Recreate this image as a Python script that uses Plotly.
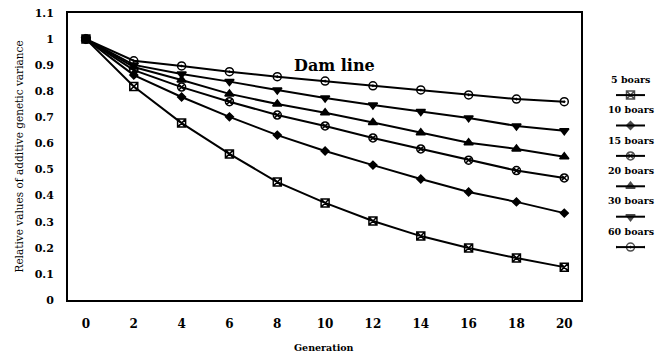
import plotly.graph_objects as go

generations = [0, 2, 4, 6, 8, 10, 12, 14, 16, 18, 20]

boars_5 = [1.0, 0.818, 0.678, 0.560, 0.452, 0.372, 0.303, 0.245, 0.199, 0.161, 0.126]
boars_10 = [1.0, 0.862, 0.778, 0.702, 0.632, 0.571, 0.517, 0.464, 0.414, 0.376, 0.333]
boars_15 = [1.0, 0.881, 0.816, 0.760, 0.709, 0.667, 0.621, 0.579, 0.536, 0.496, 0.468]
boars_20 = [1.0, 0.893, 0.843, 0.790, 0.751, 0.718, 0.680, 0.641, 0.603, 0.579, 0.549]
boars_30 = [1.0, 0.901, 0.866, 0.837, 0.805, 0.774, 0.747, 0.722, 0.698, 0.667, 0.649]
boars_60 = [1.0, 0.917, 0.897, 0.875, 0.856, 0.839, 0.821, 0.805, 0.786, 0.770, 0.760]

series_names = ["5 boars", "10 boars", "15 boars", "20 boars", "30 boars", "60 boars"]
series_values = [boars_5, boars_10, boars_15, boars_20, boars_30, boars_60]
series_symbols = ["square-x-open", "diamond", "circle-x-open", "triangle-up", "triangle-down", "circle-open-dot"]
series_sizes = [8, 6, 8, 8, 8, 8]

y_tickvals = [0, 0.1, 0.2, 0.3, 0.4, 0.5, 0.6, 0.7, 0.8, 0.9, 1.0, 1.1]
y_ticktext = ["0", "0.1", "0.2", "0.3", "0.4", "0.5", "0.6", "0.7", "0.8", "0.9", "1", "1.1"]

SERIF = "DejaVu Serif"

fig = go.Figure()

for name, vals, sym, sz in zip(series_names, series_values, series_symbols, series_sizes):
    fig.add_trace(go.Scatter(
        x=generations, y=vals, mode="lines+markers", name=name,
        line=dict(color="black", width=2),
        marker=dict(symbol=sym, size=sz, color="black", line=dict(color="black", width=1.5)),
        showlegend=False, xaxis="x", yaxis="y",
    ))

# custom legend: text above, line+marker below
for i, (name, sym, sz) in enumerate(zip(series_names, series_symbols, series_sizes)):
    fig.add_trace(go.Scatter(
        x=[0, 0.5, 1], y=[i, i, i], mode="lines+markers",
        line=dict(color="black", width=2),
        marker=dict(symbol=sym, size=[0, sz, 0], color="black", line=dict(color="black", width=1.5)),
        showlegend=False, xaxis="x2", yaxis="y2", hoverinfo="skip",
    ))
    fig.add_annotation(
        x=0.5, y=i - 0.52, xref="x2", yref="y2", text="<b>" + name + "</b>", showarrow=False,
        font=dict(family=SERIF, size=9.5, color="black"), xanchor="center", yanchor="middle",
    )

fig.add_annotation(
    x=10.4, y=0.9, xref="x", yref="y", text="<b>Dam line</b>", showarrow=False,
    font=dict(family=SERIF, size=16, color="black"), xanchor="center", yanchor="middle",
)
fig.add_annotation(
    x=-0.0836, y=0.5, xref="paper", yref="paper", text="Relative values of additive genetic variance",
    textangle=-90, showarrow=False, font=dict(family=SERIF, size=10.5, color="black"),
    xanchor="center", yanchor="middle",
)
fig.add_annotation(
    x=0.428, y=-0.167, xref="paper", yref="paper", text="<b>Generation</b>", showarrow=False,
    font=dict(family=SERIF, size=9.5, color="black"), xanchor="center", yanchor="middle",
)

fig.update_layout(
    width=666, height=358,
    margin=dict(l=68, r=0, t=13, b=58),
    paper_bgcolor="white", plot_bgcolor="white",
    xaxis=dict(
        domain=[0, 0.8579], range=[-0.75, 20.7],
        tickvals=generations, ticktext=[str(g) for g in generations],
        showgrid=False, zeroline=False, showline=True, mirror=True,
        linecolor="black", linewidth=2, ticks="", ticklabelstandoff=12,
        tickfont=dict(family=SERIF, size=12, color="black", weight="bold"),
    ),
    yaxis=dict(
        range=[0, 1.1], tickvals=y_tickvals, ticktext=y_ticktext,
        showgrid=False, zeroline=False, showline=True, mirror=True,
        linecolor="black", linewidth=2, ticks="", ticklabelstandoff=10,
        tickfont=dict(family=SERIF, size=11, color="black", weight="bold"),
    ),
    xaxis2=dict(domain=[0.9164, 0.9649], range=[0, 1], visible=False, anchor="y2"),
    yaxis2=dict(domain=[0, 1], range=[6.74, -2.7], visible=False, anchor="x2"),
)

fig.write_html("out.html")
